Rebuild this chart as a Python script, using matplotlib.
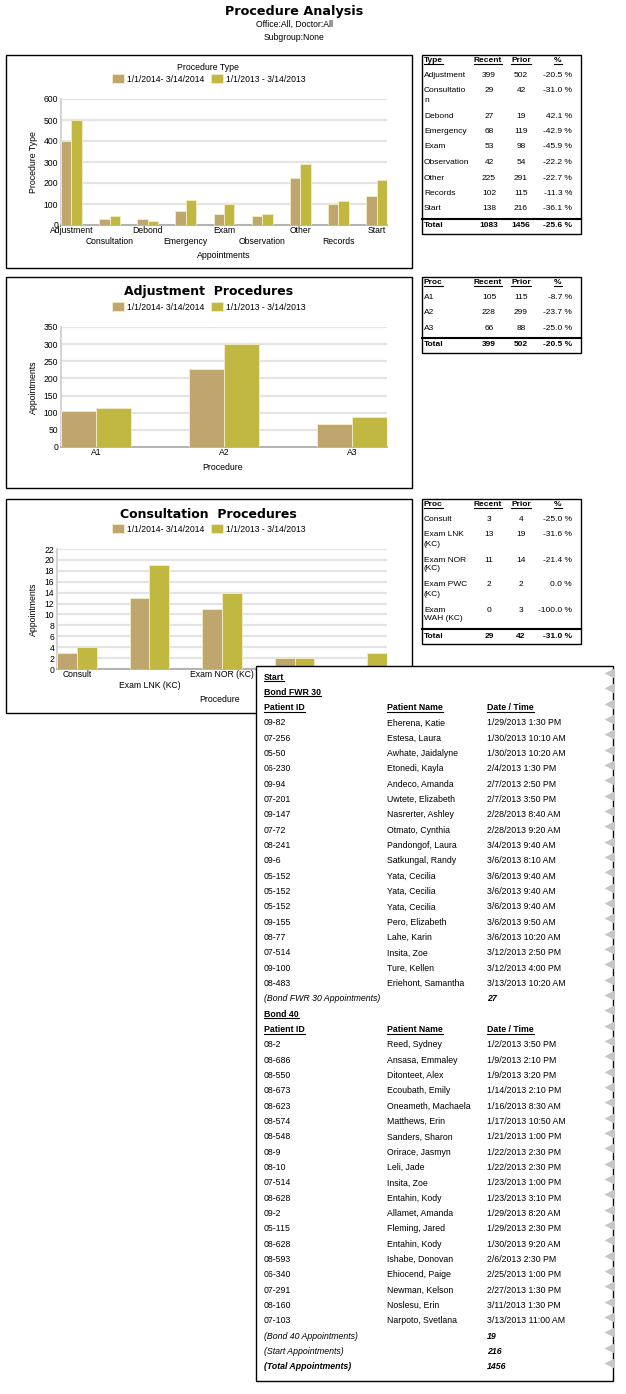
import numpy as np
import matplotlib
matplotlib.use('Agg')
import matplotlib.pyplot as plt
from matplotlib.patches import Rectangle

W, H = 626, 1394

plt.rcParams['font.family'] = ['Liberation Sans', 'DejaVu Sans']
plt.rcParams['font.size'] = 6

TAN = '#BEA66E'
OLIVE = '#C0B840'
EDGE = '#EFEAC4'

# ---- data ----
period_recent = '1/1/2014- 3/14/2014'
period_prior = '1/1/2013 - 3/14/2013'

types = ['Adjustment', 'Consultation', 'Debond', 'Emergency', 'Exam',
         'Observation', 'Other', 'Records', 'Start']
type_rows = ['Adjustment', 'Consultatio\nn', 'Debond', 'Emergency', 'Exam',
             'Observation', 'Other', 'Records', 'Start']
type_recent = [399, 29, 27, 68, 53, 42, 225, 102, 138]
type_prior = [502, 42, 19, 119, 98, 54, 291, 115, 216]

adj_procs = ['A1', 'A2', 'A3']
adj_recent = [105, 228, 66]
adj_prior = [115, 299, 88]

con_procs = ['Consult', 'Exam LNK (KC)', 'Exam NOR (KC)', 'Exam PWC (KC)', 'Exam WAH (KC)']
con_rows = ['Consult', 'Exam LNK\n(KC)', 'Exam NOR\n(KC)', 'Exam PWC\n(KC)', 'Exam\nWAH (KC)']
con_recent = [3, 13, 11, 2, 0]
con_prior = [4, 19, 14, 2, 3]

bond30_ids = ['09-82', '07-256', '05-50', '06-230', '09-94', '07-201', '09-147', '07-72',
              '08-241', '09-6', '05-152', '05-152', '05-152', '09-155', '08-77', '07-514',
              '09-100', '08-483']
bond30_names = ['Eherena, Katie', 'Estesa, Laura', 'Awhate, Jaidalyne', 'Etonedi, Kayla',
                'Andeco, Amanda', 'Uwtete, Elizabeth', 'Nasrerter, Ashley', 'Otmato, Cynthia',
                'Pandongof, Laura', 'Satkungal, Randy', 'Yata, Cecilia', 'Yata, Cecilia',
                'Yata, Cecilia', 'Pero, Elizabeth', 'Lahe, Karin', 'Insita, Zoe',
                'Ture, Kellen', 'Eriehont, Samantha']
bond30_times = ['1/29/2013 1:30 PM', '1/30/2013 10:10 AM', '1/30/2013 10:20 AM',
                '2/4/2013 1:30 PM', '2/7/2013 2:50 PM', '2/7/2013 3:50 PM',
                '2/28/2013 8:40 AM', '2/28/2013 9:20 AM', '3/4/2013 9:40 AM',
                '3/6/2013 8:10 AM', '3/6/2013 9:40 AM', '3/6/2013 9:40 AM',
                '3/6/2013 9:40 AM', '3/6/2013 9:50 AM', '3/6/2013 10:20 AM',
                '3/12/2013 2:50 PM', '3/12/2013 4:00 PM', '3/13/2013 10:20 AM']

bond40_ids = ['08-2', '08-686', '08-550', '08-673', '08-623', '08-574', '08-548', '08-9',
              '08-10', '07-514', '08-628', '09-2', '05-115', '08-628', '08-593', '06-340',
              '07-291', '08-160', '07-103']
bond40_names = ['Reed, Sydney', 'Ansasa, Emmaley', 'Ditonteet, Alex', 'Ecoubath, Emily',
                'Oneameth, Machaela', 'Matthews, Erin', 'Sanders, Sharon', 'Orirace, Jasmyn',
                'Leli, Jade', 'Insita, Zoe', 'Entahin, Kody', 'Allamet, Amanda',
                'Fleming, Jared', 'Entahin, Kody', 'Ishabe, Donovan', 'Ehiocend, Paige',
                'Newman, Kelson', 'Noslesu, Erin', 'Narpoto, Svetlana']
bond40_times = ['1/2/2013 3:50 PM', '1/9/2013 2:10 PM', '1/9/2013 3:20 PM',
                '1/14/2013 2:10 PM', '1/16/2013 8:30 AM', '1/17/2013 10:50 AM',
                '1/21/2013 1:00 PM', '1/22/2013 2:30 PM', '1/22/2013 2:30 PM',
                '1/23/2013 1:00 PM', '1/23/2013 3:10 PM', '1/29/2013 8:20 AM',
                '1/29/2013 2:30 PM', '1/30/2013 9:20 AM', '2/6/2013 2:30 PM',
                '2/25/2013 1:00 PM', '2/27/2013 1:30 PM', '3/11/2013 1:30 PM',
                '3/13/2013 11:00 AM']

bond30_count = 27
bond40_count = 19
start_count = 216
total_count = 1456

fig = plt.figure(figsize=(W / 100, H / 100), dpi=100)


def px_axes(x0, y0, x1, y1):
    return fig.add_axes([x0 / W, 1 - y1 / H, (x1 - x0) / W, (y1 - y0) / H])


def bar_chart(rect, cats, recent, prior, ymax, step, stagger, legend_xy):
    ax = px_axes(*rect)
    x = np.arange(len(cats))
    w = 0.275
    b1 = ax.bar(x - w / 2, recent, w, color=TAN, edgecolor=EDGE, linewidth=0.7, zorder=3)
    b2 = ax.bar(x + w / 2, prior, w, color=OLIVE, edgecolor=EDGE, linewidth=0.7, zorder=3)
    ax.set_xlim(-w, len(cats) - 1 + w)
    ax.set_ylim(0, ymax)
    ax.set_yticks(np.arange(0, ymax + step / 2, step))
    ax.set_xticks(x)
    if stagger:
        labels = [c if i % 2 == 0 else '\n' + c for i, c in enumerate(cats)]
    else:
        labels = cats
    ax.set_xticklabels(labels, linespacing=1.25)
    ax.grid(axis='y', color='#E4E4E4', linewidth=1.6)
    ax.set_axisbelow(True)
    for s in ['top', 'right']:
        ax.spines[s].set_visible(False)
    ax.spines['left'].set_color('#CCCCCC')
    ax.spines['bottom'].set_color('#A8A8A8')
    ax.spines['left'].set_linewidth(1.2)
    ax.spines['bottom'].set_linewidth(1.2)
    ax.tick_params(axis='both', length=0, labelsize=6.2, pad=1)
    ax.tick_params(axis='y', pad=2)
    ax.legend([b1, b2], [period_recent, period_prior], loc='center',
              bbox_to_anchor=(legend_xy[0] / W, 1 - legend_xy[1] / H),
              bbox_transform=fig.transFigure, ncol=2, frameon=False, fontsize=6.2,
              handlelength=1.3, handleheight=1.15, handletextpad=0.4,
              columnspacing=0.8, borderaxespad=0, borderpad=0)
    return ax


ax1 = bar_chart((61, 99, 387, 225), types, type_recent, type_prior, 600, 100, True, (209, 79))
ax2 = bar_chart((61, 327, 387, 447), adj_procs, adj_recent, adj_prior, 350, 50, False, (209, 307))
ax3 = bar_chart((57, 549, 387, 669), con_procs, con_recent, con_prior, 22, 2, True, (209, 529))

# overlay in pixel coordinates
ov = fig.add_axes([0, 0, 1, 1])
ov.set_xlim(0, W)
ov.set_ylim(H, 0)
ov.axis('off')
ov.patch.set_alpha(0)

ov.text(294, 12, 'Procedure Analysis', ha='center', va='center', fontsize=9.2,
        fontweight='bold', family='DejaVu Sans')
ov.text(294, 24.5, 'Office:All, Doctor:All', ha='center', va='center', fontsize=6.2)
ov.text(294, 37.5, 'Subgroup:None', ha='center', va='center', fontsize=6.2)

# chart boxes and labels
for (y0, y1) in [(55, 268), (277, 488), (499, 713)]:
    ov.add_patch(Rectangle((6, y0), 406, y1 - y0, fill=False, ec='black', lw=1))

ov.text(208, 67, 'Procedure Type', ha='center', va='center', fontsize=6.3)
ov.text(209, 291, 'Adjustment  Procedures', ha='center', va='center', fontsize=9,
        fontweight='bold', family='DejaVu Sans')
ov.text(208, 514, 'Consultation  Procedures', ha='center', va='center', fontsize=9,
        fontweight='bold', family='DejaVu Sans')
ov.text(33, 162, 'Procedure Type', rotation=90, ha='center', va='center', fontsize=6.3)
ov.text(33, 387, 'Appointments', rotation=90, ha='center', va='center', fontsize=6.3)
ov.text(33, 609, 'Appointments', rotation=90, ha='center', va='center', fontsize=6.3)
ov.text(224, 255, 'Appointments', ha='center', va='center', fontsize=6.3)
ov.text(223, 468, 'Procedure', ha='center', va='center', fontsize=6.3)
ov.text(220, 699, 'Procedure', ha='center', va='center', fontsize=6.3)

underlined = []


def draw_table(top, head, rows, recent, prior):
    x0, x1 = 422, 581
    y = top + 6
    underlined.append(ov.text(424, y, head, fontweight='bold', va='center', ha='left'))
    underlined.append(ov.text(488, y, 'Recent', fontweight='bold', va='center', ha='center'))
    underlined.append(ov.text(521, y, 'Prior', fontweight='bold', va='center', ha='center'))
    underlined.append(ov.text(558, y, '%', fontweight='bold', va='center', ha='center'))
    y += 14.5
    for lab, r, p in zip(rows, recent, prior):
        lines = lab.split('\n')
        for k, ln in enumerate(lines):
            ov.text(424, y + 9 * k, ln, va='center', ha='left')
        ov.text(489, y, str(r), va='center', ha='center')
        ov.text(521, y, str(p), va='center', ha='center')
        ov.text(572, y, f'{(r - p) / p * 100:.1f} %', va='center', ha='right')
        y += 15.5 + 9.5 * (len(lines) - 1)
    ov.plot([x0, x1], [y - 6, y - 6], color='black', lw=1.5)
    tr, tp = sum(recent), sum(prior)
    ov.text(424, y + 1, 'Total', fontweight='bold', va='center', ha='left')
    ov.text(489, y + 1, str(tr), fontweight='bold', va='center', ha='center')
    ov.text(521, y + 1, str(tp), fontweight='bold', va='center', ha='center')
    ov.text(572, y + 1, f'{(tr - tp) / tp * 100:.1f} %', fontweight='bold', va='center', ha='right')
    ov.add_patch(Rectangle((x0, top), x1 - x0, y + 9 - top, fill=False, ec='black', lw=1))


draw_table(55, 'Type', type_rows, type_recent, type_prior)
draw_table(277, 'Proc', adj_procs, adj_recent, adj_prior)
draw_table(499, 'Proc', con_rows, con_recent, con_prior)

# patient list box
ov.add_patch(Rectangle((256, 666), 357, 715, fc='white', ec='black', lw=1, zorder=5))
step = 15.33
y = 677
row_ys = []


def put(x, yy, s, **kw):
    return ov.text(x, yy, s, va='center', ha='left', zorder=6, fontsize=6.3, **kw)


def group(title, ids, names, times, count):
    global y
    underlined.append(put(264, y, title, fontweight='bold'))
    row_ys.append(y)
    y += step
    underlined.append(put(264, y, 'Patient ID', fontweight='bold'))
    underlined.append(put(387, y, 'Patient Name', fontweight='bold'))
    underlined.append(put(487, y, 'Date / Time', fontweight='bold'))
    row_ys.append(y)
    y += step
    for i, n, t in zip(ids, names, times):
        put(264, y, i)
        put(387, y, n)
        put(487, y, t)
        row_ys.append(y)
        y += step
    put(264, y, f'({title} Appointments)', style='italic')
    put(487, y, str(count), style='italic', fontweight='bold')
    row_ys.append(y)
    y += step


underlined.append(put(264, y, 'Start', fontweight='bold'))
row_ys.append(y)
y += step
group('Bond FWR 30', bond30_ids, bond30_names, bond30_times, bond30_count)
group('Bond 40', bond40_ids, bond40_names, bond40_times, bond40_count)
put(264, y, '(Start Appointments)', style='italic')
put(487, y, str(start_count), style='italic', fontweight='bold')
row_ys.append(y)
y += step
put(264, y, '(Total Appointments)', style='italic', fontweight='bold')
put(487, y, str(total_count), style='italic', fontweight='bold')
row_ys.append(y)

ov.plot([609] * len(row_ys), np.array(row_ys) - 4, ls='none', marker='<', ms=7,
        color='#C6C6C6', mec='none', zorder=7)

# underline header texts
fig.canvas.draw()
inv = ov.transData.inverted()
for t in underlined:
    bb = t.get_window_extent()
    (ax0, ay0), (ax1_, ay1) = inv.transform([[bb.x0, bb.y0], [bb.x1, bb.y1]])
    ov.plot([ax0, ax1_], [ay0 - 0.5, ay0 - 0.5], color='black', lw=0.8,
            zorder=t.get_zorder())

fig.savefig('out.png', dpi=100)
